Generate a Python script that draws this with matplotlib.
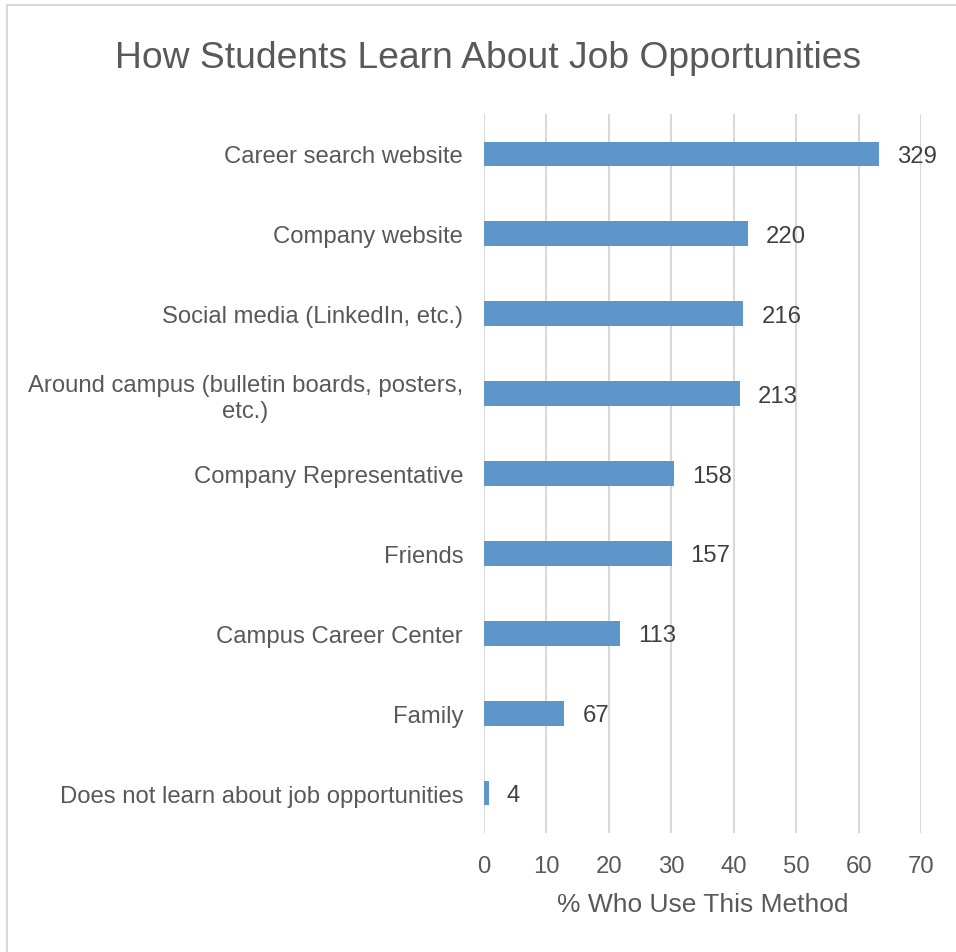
import matplotlib
matplotlib.use("Agg")
import matplotlib.pyplot as plt
from matplotlib.lines import Line2D

plt.rcParams['font.family'] = ['Liberation Sans', 'DejaVu Sans']

categories = [
    "Career search website",
    "Company website",
    "Social media (LinkedIn, etc.)",
    "Around campus (bulletin boards, posters,\netc.)",
    "Company Representative",
    "Friends",
    "Campus Career Center",
    "Family",
    "Does not learn about job opportunities",
]
counts = [329, 220, 216, 213, 158, 157, 113, 67, 4]
respondents = 520
percents = [c / respondents * 100 for c in counts]
xticks = [0, 10, 20, 30, 40, 50, 60, 70]

text_color = "#595959"
bar_color = "#5F96C9"
grid_color = "#D9D9D9"

W, H = 956, 953
fig = plt.figure(figsize=(W / 100, H / 100), dpi=100)
# chart frame (left and top edges)
fig.lines.append(Line2D([7 / W, 7 / W], [0, 1 - 6 / H], transform=fig.transFigure,
                        color="#D9D9D9", linewidth=1.5))
fig.lines.append(Line2D([7 / W, 1], [1 - 6 / H, 1 - 6 / H], transform=fig.transFigure,
                        color="#D9D9D9", linewidth=1.5))

ax = fig.add_axes([484 / W, 1 - 834 / H, (921 - 484) / W, (834 - 115) / H])
ypos = list(range(len(categories)))
ax.barh(ypos, percents, height=0.31, color=bar_color, zorder=3)
ax.set_ylim(len(categories) - 0.5, -0.5)
ax.set_xlim(0, 70)
ax.set_xticks(xticks)
ax.set_xticklabels([str(t) for t in xticks])
ax.set_yticks(ypos)
ax.set_yticklabels(categories, ha="right", multialignment="center")
ax.tick_params(axis="y", length=0, pad=15, labelsize=17.2, labelcolor=text_color)
ax.tick_params(axis="x", length=0, pad=15.5, labelsize=17.2, labelcolor=text_color)
ax.grid(axis="x", color=grid_color, linewidth=1.5, zorder=0)
for s in ax.spines.values():
    s.set_visible(False)

for y, p, c in zip(ypos, percents, counts):
    ax.annotate(str(c), (p, y), xytext=(13, -1.5), textcoords="offset points",
                va="center", ha="left", fontsize=17.2, color="#404040")

ax.set_xlabel("% Who Use This Method", fontsize=19, color=text_color, labelpad=11.5)
fig.text(488 / W, 1 - 59 / H, "How Students Learn About Job Opportunities",
         ha="center", va="center", fontsize=26.8, color=text_color)

fig.savefig("out.png", dpi=100)
